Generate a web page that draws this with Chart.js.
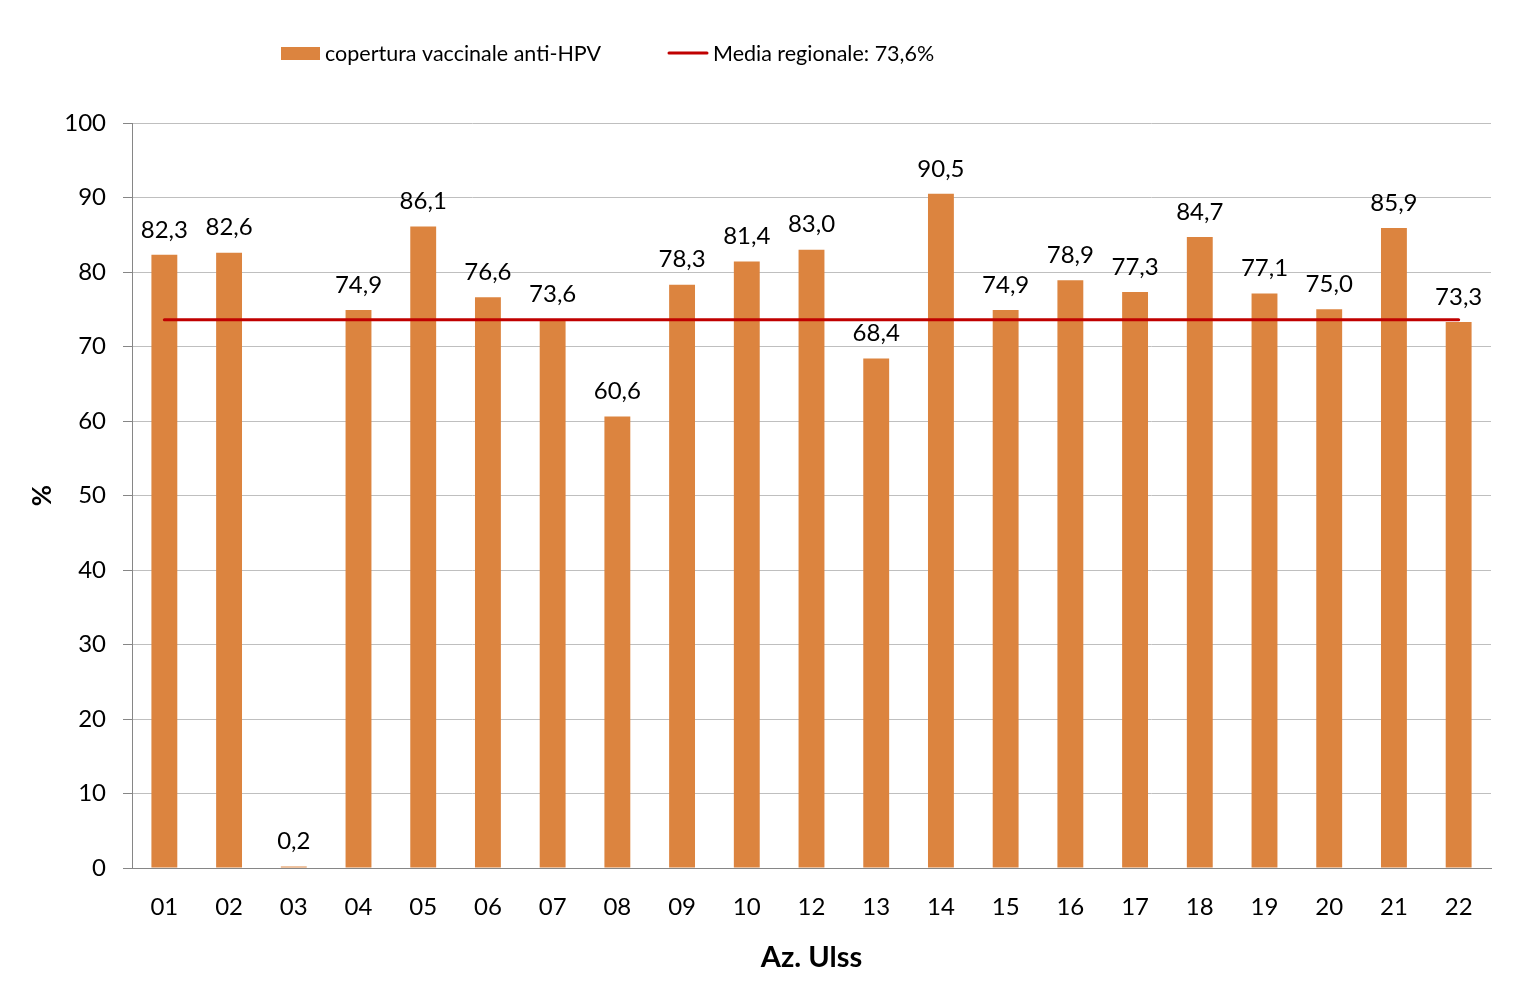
<!DOCTYPE html>
<html>
<head>
<meta charset="utf-8">
<script src="https://cdn.jsdelivr.net/npm/chart.js@4/dist/chart.umd.min.js"></script>
<style>
  html, body { margin: 0; padding: 0; background: #fff; }
  #wrap { width: 1527px; height: 997px; position: relative; }
</style>
</head>
<body>
<div id="wrap"><canvas id="c" width="1527" height="997"></canvas></div>
<script>
const categories = ['01','02','03','04','05','06','07','08','09','10','12','13','14','15','16','17','18','19','20','21','22'];
const coverage = [82.3, 82.6, 0.2, 74.9, 86.1, 76.6, 73.6, 60.6, 78.3, 81.4, 83.0, 68.4, 90.5, 74.9, 78.9, 77.3, 84.7, 77.1, 75.0, 85.9, 73.3];
const regionalMean = 73.6;
const meanSeries = categories.map(() => regionalMean);
const yTicks = [0, 10, 20, 30, 40, 50, 60, 70, 80, 90, 100];
const seriesLabels = ['copertura vaccinale anti-HPV', 'Media regionale: 73,6%'];
const xTitle = 'Az. Ulss';
const yTitle = '%';

const FONT = 'Lato, "Open Sans", sans-serif';
const BAR_COLOR = '#DC843F';
const LINE_COLOR = '#C00000';

const fmt = v => v.toFixed(1).replace('.', ',');

const valueLabels = {
  id: 'valueLabels',
  afterDatasetsDraw(chart) {
    const ctx = chart.ctx;
    const meta = chart.getDatasetMeta(1);
    ctx.save();
    ctx.font = '24px ' + FONT;
    ctx.fillStyle = '#000';
    ctx.textAlign = 'center';
    ctx.textBaseline = 'bottom';
    meta.data.forEach((bar, i) => {
      ctx.fillText(fmt(coverage[i]), bar.x, bar.y - 13);
    });
    ctx.restore();
  }
};

const customLegend = {
  id: 'customLegend',
  afterDraw(chart) {
    const ctx = chart.ctx;
    ctx.save();
    ctx.font = '21.5px ' + FONT;
    ctx.textBaseline = 'middle';
    ctx.fillStyle = BAR_COLOR;
    ctx.fillRect(281, 47, 39, 13);
    ctx.fillStyle = '#000';
    ctx.fillText(seriesLabels[0], 325, 54);
    ctx.strokeStyle = LINE_COLOR;
    ctx.lineWidth = 3;
    ctx.lineCap = 'round';
    ctx.beginPath();
    ctx.moveTo(669, 53);
    ctx.lineTo(707, 53);
    ctx.stroke();
    ctx.fillText(seriesLabels[1], 713, 54);
    ctx.restore();
  }
};

new Chart(document.getElementById('c'), {
  data: {
    labels: categories,
    datasets: [
      {
        type: 'line',
        label: seriesLabels[1],
        data: meanSeries,
        borderColor: LINE_COLOR,
        borderWidth: 3,
        borderCapStyle: 'round',
        pointRadius: 0,
        fill: false,
        order: 0
      },
      {
        type: 'bar',
        label: seriesLabels[0],
        data: coverage,
        backgroundColor: BAR_COLOR,
        categoryPercentage: 1.0,
        barPercentage: 0.4,
        order: 1
      }
    ]
  },
  options: {
    responsive: false,
    animation: false,
    devicePixelRatio: 1,
    layout: { padding: { top: 123, right: 36, bottom: 0, left: 0 } },
    plugins: {
      legend: { display: false },
      tooltip: { enabled: false }
    },
    scales: {
      x: {
        offset: true,
        grid: { display: false, drawTicks: false },
        border: { display: true, color: '#868686', width: 1 },
        ticks: { color: '#000', font: { family: FONT, size: 24 }, padding: 25 },
        title: { display: true, text: xTitle, color: '#000', font: { family: FONT, size: 29, weight: 'bold' }, padding: { top: 0, bottom: 22 } },
        afterFit(scale) { scale.height = 129; }
      },
      y: {
        min: 0, max: 100,
        afterBuildTicks(scale) { scale.ticks = yTicks.map(v => ({ value: v })); },
        grid: { color: '#BFBFBF', lineWidth: 1, tickLength: 9, tickColor: '#868686' },
        border: { display: true, color: '#868686', width: 1 },
        ticks: { color: '#000', font: { family: FONT, size: 24 }, padding: 17 },
        title: { display: true, text: yTitle, color: '#000', font: { family: FONT, size: 26, weight: 'bold' }, padding: { top: 27 } },
        afterFit(scale) { scale.width = 132; }
      }
    }
  },
  plugins: [valueLabels, customLegend]
});
</script>
</body>
</html>
